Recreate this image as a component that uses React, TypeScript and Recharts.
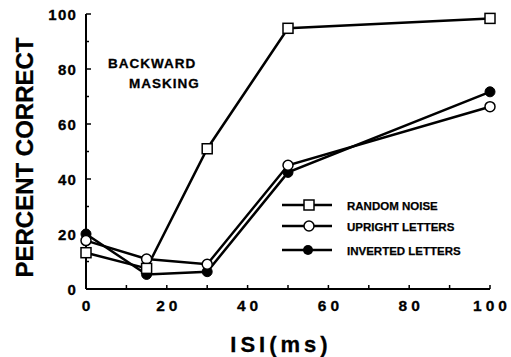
import React from 'react';
import { LineChart, Line, XAxis, YAxis, Legend, Customized } from 'recharts';

const isi = [0, 15, 30, 50, 100];
const randomNoise = [13.2, 7.5, 51, 94.8, 98.4];
const uprightLetters = [17.6, 10.9, 9, 45, 66.3];
const invertedLetters = [20, 5.3, 6.3, 42.4, 71.7];
const xTicks = [0, 10, 20, 30, 40, 50, 60, 70, 80, 90, 100];
const yTicks = [0, 10, 20, 30, 40, 50, 60, 70, 80, 90, 100];
const seriesNames = ['RANDOM NOISE', 'UPRIGHT LETTERS', 'INVERTED LETTERS'];

const data = isi.map((x, i) => ({
  isi: x,
  noise: randomNoise[i],
  upright: uprightLetters[i],
  inverted: invertedLetters[i],
}));

const FONT = '"Liberation Sans", Arial, Helvetica, sans-serif';

const BottomTick = (props: any) => {
  const { x, y, payload } = props;
  const v = payload.value;
  return (
    <g>
      <line x1={x} y1={y} x2={x} y2={y - 4} stroke="#000" strokeWidth={1.5} />
      {v % 20 === 0 && (
        <text x={x + 2} y={y + 22} textAnchor="middle" fontFamily={FONT} fontWeight="bold" fontSize={15.5} letterSpacing={4} fill="#000" stroke="#000" strokeWidth={0.3}>
          {v}
        </text>
      )}
    </g>
  );
};

const TopTick = (props: any) => {
  const { x, y } = props;
  return <line x1={x} y1={y} x2={x} y2={y + 4} stroke="#000" strokeWidth={1.5} />;
};

const LeftTick = (props: any) => {
  const { x, y, payload } = props;
  const v = payload.value;
  const major = v % 20 === 0;
  return (
    <g>
      <line x1={x} y1={y} x2={x + (major ? 5 : 3)} y2={y} stroke="#000" strokeWidth={1.5} />
      {major && (
        <text x={x - 9} y={y + 6} textAnchor="end" fontFamily={FONT} fontWeight="bold" fontSize={15} letterSpacing={1.2} fill="#000" stroke="#000" strokeWidth={0.3}>
          {v}
        </text>
      )}
    </g>
  );
};

const RightTick = (props: any) => {
  const { x, y } = props;
  return <line x1={x} y1={y} x2={x - 4} y2={y} stroke="#000" strokeWidth={1.5} />;
};

const SquareDot = (props: any) => {
  const { cx, cy, index } = props;
  return <rect key={`sq-${index}`} x={cx - 5} y={cy - 5} width={10} height={10} fill="#fff" stroke="#000" strokeWidth={1.5} />;
};

const OpenDot = (props: any) => {
  const { cx, cy, index } = props;
  return <circle key={`oc-${index}`} cx={cx} cy={cy} r={5} fill="#fff" stroke="#000" strokeWidth={1.5} />;
};

const FilledDot = (props: any) => {
  const { cx, cy, index } = props;
  return <circle key={`fc-${index}`} cx={cx} cy={cy} r={5} fill="#000" stroke="#000" strokeWidth={1} />;
};

const LegendContent = () => {
  const rows = [
    { name: seriesNames[0], y: 12, marker: 'square' },
    { name: seriesNames[1], y: 33, marker: 'open' },
    { name: seriesNames[2], y: 57, marker: 'filled' },
  ];
  return (
    <svg width={190} height={70} style={{ display: 'block' }}>
      {rows.map((r) => (
        <g key={r.name}>
          <line x1={4} y1={r.y} x2={54} y2={r.y} stroke="#000" strokeWidth={2.5} />
          {r.marker === 'square' && <rect x={26} y={r.y - 5} width={10} height={10} fill="#fff" stroke="#000" strokeWidth={1.5} />}
          {r.marker === 'open' && <circle cx={31} cy={r.y} r={5} fill="#fff" stroke="#000" strokeWidth={1.5} />}
          {r.marker === 'filled' && <circle cx={30} cy={r.y} r={5} fill="#000" />}
          <text x={69} y={r.y + 4.5} fontFamily={FONT} fontWeight="bold" fontSize={11.5} fill="#000" stroke="#000" strokeWidth={0.25}>
            {r.name}
          </text>
        </g>
      ))}
    </svg>
  );
};

const Annotations = () => (
  <g>
    <text x={108} y={68} fontFamily={FONT} fontWeight="bold" fontSize={13.5} letterSpacing={1} fill="#000" stroke="#000" strokeWidth={0.3}>BACKWARD</text>
    <text x={129} y={88} fontFamily={FONT} fontWeight="bold" fontSize={13.5} letterSpacing={1} fill="#000" stroke="#000" strokeWidth={0.3}>MASKING</text>
    <g transform="translate(33,157.5) rotate(-90)">
      <text x={0} y={0} textAnchor="middle" fontFamily={FONT} fontWeight="bold" fontSize={24} fill="#000" stroke="#000" strokeWidth={0.3}>PERCENT CORRECT</text>
    </g>
    <text x={281} y={352} textAnchor="middle" fontFamily={FONT} fontWeight="bold" fontSize={22} letterSpacing={4} fill="#000" stroke="#000" strokeWidth={0.3}>ISI(ms)</text>
  </g>
);

export default function App() {
  return (
    <div style={{ position: 'absolute', left: 0, top: 0, width: 511, height: 357, background: '#fff' }}>
      <LineChart width={511} height={357} data={data} margin={{ top: 14, right: 21, left: 26, bottom: 38 }}>
        <XAxis dataKey="isi" type="number" domain={[0, 100]} ticks={xTicks} interval={0} height={30}
          axisLine={{ stroke: '#000', strokeWidth: 2 }} tickLine={false} tickSize={0} tickMargin={0} tick={<BottomTick />} />
        <XAxis xAxisId="top" orientation="top" dataKey="isi" type="number" domain={[0, 100]} ticks={xTicks} interval={0} height={0}
          axisLine={{ stroke: '#000', strokeWidth: 2 }} tickLine={false} tickSize={0} tickMargin={0} tick={<TopTick />} />
        <YAxis type="number" domain={[0, 100]} ticks={yTicks} interval={0} width={60}
          axisLine={{ stroke: '#000', strokeWidth: 2 }} tickLine={false} tickSize={0} tickMargin={0} tick={<LeftTick />} />
        <YAxis yAxisId="right" orientation="right" type="number" domain={[0, 100]} ticks={yTicks} interval={0} width={0}
          axisLine={{ stroke: '#000', strokeWidth: 2 }} tickLine={false} tickSize={0} tickMargin={0} tick={<RightTick />} />
        <Line dataKey="inverted" stroke="#000" strokeWidth={2.5} dot={<FilledDot />} isAnimationActive={false} name={seriesNames[2]} />
        <Line dataKey="upright" stroke="#000" strokeWidth={2.5} dot={<OpenDot />} isAnimationActive={false} name={seriesNames[1]} />
        <Line dataKey="noise" stroke="#000" strokeWidth={2.5} dot={<SquareDot />} isAnimationActive={false} name={seriesNames[0]} />
        <Legend layout="vertical" align="center" verticalAlign="middle" content={<LegendContent />}
          wrapperStyle={{ position: 'absolute', left: 278, top: 193, width: 190, height: 70 }} />
        <Customized component={<Annotations />} />
      </LineChart>
    </div>
  );
}
